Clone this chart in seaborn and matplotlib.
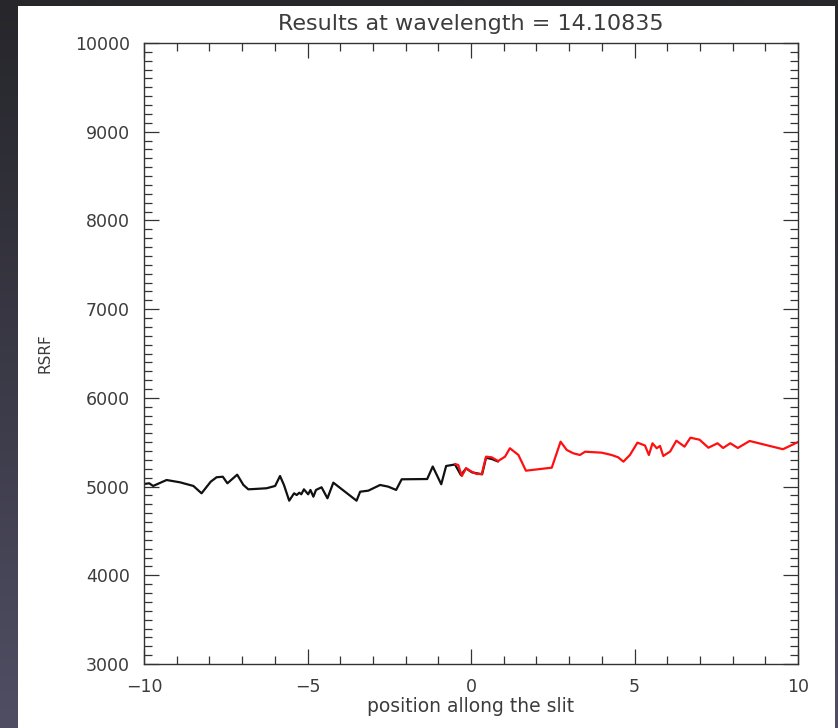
import numpy as np
import pandas as pd
import matplotlib
matplotlib.use("Agg")
import matplotlib.pyplot as plt
import seaborn as sns
from matplotlib.ticker import MultipleLocator
from matplotlib.colors import LinearSegmentedColormap
from matplotlib.patches import Rectangle

# RSRF profile along the slit, first half (black) and second half (red)
left_pos = [-10.00, -9.84, -9.72, -9.31, -8.90, -8.49, -8.24, -7.96, -7.78, -7.59,
            -7.45, -7.15, -6.96, -6.81, -6.61, -6.25, -5.99, -5.84, -5.72, -5.56,
            -5.41, -5.33, -5.25, -5.19, -5.11, -4.98, -4.91, -4.82, -4.74, -4.57,
            -4.39, -4.21, -3.50, -3.39, -3.14, -2.78, -2.53, -2.29, -2.12, -1.34,
            -1.17, -0.91, -0.76, -0.49, -0.31, -0.15, 0.03, 0.34, 0.46, 0.64, 0.83]
left_rsrf = [5029, 5037, 5007, 5074, 5048, 5007, 4924, 5055, 5105, 5111,
             5037, 5134, 5018, 4969, 4973, 4981, 5007, 5119, 5018, 4841,
             4924, 4905, 4931, 4913, 4969, 4913, 4962, 4886, 4962, 4992,
             4868, 5044, 4841, 4942, 4954, 5018, 4999, 4962, 5082, 5085,
             5226, 5026, 5232, 5249, 5130, 5205, 5160, 5138, 5325, 5310, 5282]

right_pos = [-0.49, -0.39, -0.28, -0.15, 0.02, 0.17, 0.33, 0.46, 0.63, 0.83,
             1.04, 1.19, 1.45, 1.68, 2.47, 2.74, 2.93, 3.13, 3.33, 3.49,
             4.00, 4.30, 4.50, 4.66, 4.86, 5.09, 5.32, 5.44, 5.55, 5.68,
             5.78, 5.88, 6.09, 6.28, 6.53, 6.71, 6.99, 7.26, 7.54, 7.71,
             7.93, 8.16, 8.52, 9.54, 10.00]
right_rsrf = [5255, 5243, 5119, 5206, 5168, 5142, 5142, 5337, 5330, 5288,
              5337, 5432, 5356, 5179, 5213, 5506, 5412, 5375, 5356, 5393,
              5382, 5356, 5330, 5281, 5356, 5495, 5463, 5356, 5488, 5432,
              5458, 5345, 5395, 5517, 5450, 5551, 5528, 5438, 5488, 5435,
              5488, 5435, 5514, 5421, 5502]

title = "Results at wavelength = 14.10835"
xlabel = "position allong the slit"
ylabel = "RSRF"

sns.set_style("ticks")
plt.rcParams["font.family"] = ["DejaVu Sans"]
text_color = "#3c3c3c"

fig = plt.figure(figsize=(8.38, 7.28), dpi=100)

# dark backdrop with a soft vertical gradient, white page on top
bg = fig.add_axes([0, 0, 1, 1], zorder=-10)
cmap = LinearSegmentedColormap.from_list("frame", ["#26262b", "#3a3946", "#504e63"])
bg.imshow(np.linspace(0, 1, 256).reshape(-1, 1), aspect="auto", cmap=cmap,
          extent=[0, 1, 0, 1], origin="upper")
bg.add_patch(Rectangle((18 / 838, 0), (835 - 18) / 838, 722 / 728,
                       transform=bg.transAxes, facecolor="white", edgecolor="none"))
bg.set_xlim(0, 1)
bg.set_ylim(0, 1)
bg.axis("off")

ax = fig.add_axes([144 / 838, (728 - 664) / 728, 654 / 838, 621 / 728])
ax.set_facecolor("white")

left_df = pd.DataFrame({"pos": left_pos, "rsrf": left_rsrf})
right_df = pd.DataFrame({"pos": right_pos, "rsrf": right_rsrf})
sns.lineplot(data=left_df, x="pos", y="rsrf", ax=ax, color="#111111",
             linewidth=1.6, sort=False, estimator=None)
sns.lineplot(data=right_df, x="pos", y="rsrf", ax=ax, color="#ff1010",
             linewidth=1.6, sort=False, estimator=None)

ax.set_xlim(-10, 10)
ax.set_ylim(3000, 10000)
ax.xaxis.set_major_locator(MultipleLocator(5))
ax.xaxis.set_minor_locator(MultipleLocator(1))
ax.yaxis.set_major_locator(MultipleLocator(1000))
ax.yaxis.set_minor_locator(MultipleLocator(100))

ax.tick_params(which="both", direction="in", top=True, right=True,
               color="#333333", width=0.9)
ax.tick_params(which="major", length=11, labelsize=12.5, labelcolor=text_color)
ax.tick_params(which="minor", length=6)
ax.tick_params(axis="x", which="major", pad=10)
ax.tick_params(axis="y", which="major", pad=10)
for s in ax.spines.values():
    s.set_color("#333333")
    s.set_linewidth(1.0)

ax.set_xticks([-10, -5, 0, 5, 10])
ax.set_xticklabels(["\u221210", "\u22125", "0", "5", "10"])

ax.set_title(title, fontsize=16, color=text_color, pad=9)
ax.set_xlabel(xlabel, fontsize=13.5, color=text_color, labelpad=1)
ax.set_ylabel(ylabel, fontsize=11, color=text_color, labelpad=16)

fig.savefig("out.png", dpi=100)
